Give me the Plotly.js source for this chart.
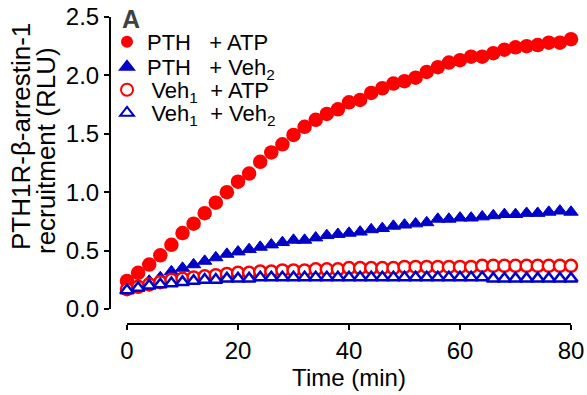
<!DOCTYPE html>
<html><head><meta charset="utf-8">
<script src="https://cdn.plot.ly/plotly-3.0.1.min.js"></script>
<style>html,body{margin:0;padding:0;background:#fff}#chart{width:587px;height:395px}</style>
</head><body><div id="chart"></div>
<script>
// Time (min)
const time = [0,2,4,6,8,10,12,14,16,18,20,22,24,26,28,30,32,34,36,38,40,42,44,46,48,50,52,54,56,58,60,62,64,66,68,70,72,74,76,78,80];
// Series values (RLU)
const pthAtp = [0.24,0.31,0.38,0.46,0.55,0.65,0.73,0.82,0.91,1.00,1.09,1.16,1.26,1.34,1.41,1.49,1.56,1.62,1.67,1.71,1.77,1.79,1.85,1.89,1.93,1.95,1.98,2.03,2.07,2.11,2.13,2.16,2.16,2.19,2.22,2.24,2.25,2.26,2.28,2.28,2.31];
const pthVeh2 = [0.16,0.20,0.24,0.27,0.32,0.35,0.38,0.41,0.44,0.47,0.49,0.51,0.53,0.55,0.57,0.59,0.59,0.61,0.63,0.64,0.65,0.66,0.68,0.69,0.71,0.72,0.73,0.74,0.77,0.77,0.78,0.78,0.79,0.80,0.81,0.81,0.82,0.82,0.83,0.84,0.83];
const veh1Atp = [0.17,0.19,0.21,0.23,0.25,0.26,0.27,0.28,0.29,0.30,0.31,0.31,0.32,0.32,0.33,0.33,0.33,0.34,0.34,0.34,0.35,0.35,0.35,0.35,0.35,0.36,0.36,0.36,0.36,0.36,0.36,0.36,0.37,0.37,0.37,0.37,0.37,0.37,0.37,0.37,0.37];
const veh1Veh2 = [0.16,0.18,0.20,0.21,0.22,0.23,0.24,0.25,0.25,0.26,0.26,0.26,0.27,0.27,0.27,0.27,0.27,0.27,0.27,0.27,0.27,0.27,0.27,0.27,0.27,0.27,0.27,0.27,0.27,0.27,0.27,0.27,0.27,0.26,0.26,0.26,0.26,0.26,0.26,0.26,0.26];
const seriesNames = ['PTH\u00a0\u00a0\u00a0+ ATP','PTH\u00a0\u00a0\u00a0+ Veh<sub>2</sub>','\u2009Veh<sub>1</sub>\u00a0\u00a0+ ATP','\u2009Veh<sub>1</sub>\u00a0\u00a0+ Veh<sub>2</sub>'];
const xTicks = [0,20,40,60,80];
const yTicks = [0,0.5,1,1.5,2,2.5];

const RED = '#ff0000', BLUE = '#0000c8';
const FONT = 'Liberation Sans, Arial, Helvetica, sans-serif';
const W = 587, H = 395;
const px = v => v / W, py = v => (H - v) / H;

const traces = [
  {x: time, y: pthAtp, name: seriesNames[0], legend: 'legend', mode: 'markers', type: 'scatter', cliponaxis: false,
   marker: {symbol: 'circle', size: 14.5, color: RED}},
  {x: time, y: pthVeh2, name: seriesNames[1], legend: 'legend2', mode: 'markers', type: 'scatter', cliponaxis: false,
   marker: {symbol: 'triangle-up', size: 12.5, color: BLUE, line: {color: BLUE, width: 1}}},
  {x: time, y: veh1Atp, name: seriesNames[2], legend: 'legend3', mode: 'markers', type: 'scatter', cliponaxis: false,
   marker: {symbol: 'circle', size: 12, color: '#ffffff', line: {color: RED, width: 2.5}}},
  {x: time, y: veh1Veh2, name: seriesNames[3], legend: 'legend4', mode: 'markers', type: 'scatter', cliponaxis: false,
   marker: {symbol: 'triangle-up', size: 11.5, color: '#ffffff', line: {color: BLUE, width: 2.5}}}
];

const legBase = {x: px(107), xanchor: 'left', yanchor: 'middle', bgcolor: 'rgba(0,0,0,0)',
  font: {family: FONT, size: 22, color: '#000'}, itemwidth: 30, borderwidth: 0, itemsizing: 'constant'};
const rows = [42, 67, 90, 113];

const layout = {
  width: W, height: H,
  margin: {l: 0, r: 0, t: 0, b: 0, autoexpand: false},
  paper_bgcolor: '#fff', plot_bgcolor: '#fff',
  font: {family: FONT, size: 24, color: '#000'},
  showlegend: true,
  legend: Object.assign({}, legBase, {y: py(rows[0])}),
  legend2: Object.assign({}, legBase, {y: py(rows[1])}),
  legend3: Object.assign({}, legBase, {y: py(rows[2])}),
  legend4: Object.assign({}, legBase, {y: py(rows[3])}),
  xaxis: {
    domain: [px(127), px(571)], anchor: 'free', position: py(324),
    range: [0, 80], tickvals: xTicks, ticktext: xTicks.map(String),
    showline: true, linecolor: '#000', linewidth: 2, ticks: 'outside', ticklen: 5, tickwidth: 2, tickcolor: '#000',
    showgrid: false, zeroline: false, tickfont: {family: FONT, size: 24},
    title: {text: 'Time (min)', font: {family: FONT, size: 24}, standoff: 4}
  },
  yaxis: {
    domain: [py(309), py(17)], anchor: 'free', position: px(110),
    range: [0, 2.5], tickvals: yTicks, ticktext: yTicks.map(v => v.toFixed(1)),
    showline: true, linecolor: '#000', linewidth: 2, ticks: 'outside', ticklen: 5, tickwidth: 2, tickcolor: '#000',
    showgrid: false, zeroline: false, tickfont: {family: FONT, size: 24}
  },
  annotations: [
    {xref: 'paper', yref: 'paper', x: px(21), y: py(137), text: 'PTH1R-β-arrestin-1', textangle: -90,
     showarrow: false, xanchor: 'center', yanchor: 'middle', font: {family: FONT, size: 26, color: '#000'}},
    {xref: 'paper', yref: 'paper', x: px(46), y: py(151), text: 'recruitment (RLU)', textangle: -90,
     showarrow: false, xanchor: 'center', yanchor: 'middle', font: {family: FONT, size: 26, color: '#000'}},
    {xref: 'paper', yref: 'paper', x: px(131), y: py(19), text: '<b>A</b>',
     showarrow: false, xanchor: 'center', yanchor: 'middle', font: {family: FONT, size: 25, color: '#404040'}}
  ]
};

Plotly.newPlot('chart', traces, layout, {displayModeBar: false, staticPlot: true});
</script>
</body></html>
